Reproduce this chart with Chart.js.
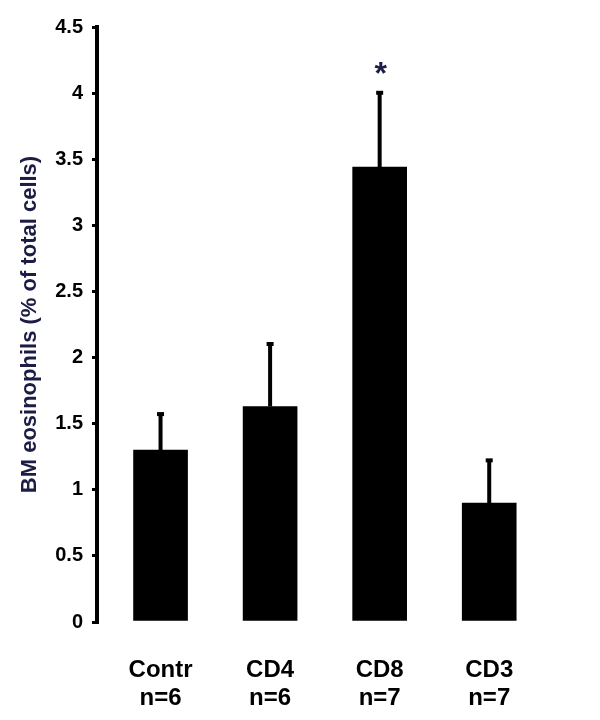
<!DOCTYPE html>
<html>
<head>
<meta charset="utf-8">
<script src="https://cdn.jsdelivr.net/npm/chart.js@4.4.0/dist/chart.umd.min.js"></script>
<style>
  html, body { margin: 0; padding: 0; background: #fff; }
  #wrap { width: 600px; height: 720px; }
</style>
</head>
<body>
<div id="wrap"><canvas id="theCanvas"></canvas></div>
<script>
// groups and group sizes
var groups = ['Contr', 'CD4', 'CD8', 'CD3'];
var groupN = ['n=6', 'n=6', 'n=7', 'n=7'];
// mean eosinophils (% of total cells) and upper error
var means = [1.30, 1.63, 3.44, 0.90];
var errs = [0.28, 0.48, 0.57, 0.33];
// which bar gets the star
var signif = [false, false, true, false];
var yTicks = [0, 0.5, 1, 1.5, 2, 2.5, 3, 3.5, 4, 4.5];

var navy = '#1c1c44';
var font = 'Liberation Sans, Arial, sans-serif';

// upward error bars + significance star
var errorBars = {
    id: 'errorBars',
    afterDatasetsDraw: function(chart){
        var ctx = chart.ctx;
        var xs = chart.scales.x, ys = chart.scales.y;
        ctx.save();
        for (var i=0; i<means.length; i++){
            var x = xs.getPixelForValue(i);
            var y0 = ys.getPixelForValue(means[i]);
            var y1 = ys.getPixelForValue(means[i] + errs[i]);
            ctx.strokeStyle = '#000';
            ctx.lineWidth = 4;
            ctx.beginPath();
            ctx.moveTo(x, y0);
            ctx.lineTo(x, y1);
            ctx.stroke();
            ctx.fillStyle = '#000';
            ctx.fillRect(x - 3.5, y1 - 1, 7, 4);
            if (signif[i]){
                ctx.fillStyle = navy;
                ctx.font = 'bold 32px ' + font;
                ctx.textAlign = 'center';
                ctx.textBaseline = 'middle';
                ctx.fillText('*', x + 1, y1 - 17);
            }
        }
        ctx.restore();
    }
};

var ctx = document.getElementById('theCanvas');

var myChart = new Chart(ctx, {
    type: 'bar',
    data: {
        datasets: [{
            data: means.map(function(v, i){ return {x: i, y: v}; }),
            backgroundColor: '#000',
            borderWidth: 0,
            barThickness: 54
        }]
    },
    options: {
        responsive: true,
        maintainAspectRatio: false,
        animation: false,
        layout: { padding: { top: 27, right: 56, bottom: 0, left: 0 } },
        plugins: { legend: { display: false }, tooltip: { enabled: false } },
        scales: {
            x: {
                type: 'linear',
                offset: false,
                min: -0.58,
                max: 3.5,
                grid: { display: false },
                border: { display: false },
                afterBuildTicks: function(scale){
                    scale.ticks = groups.map(function(g, i){ return {value: i}; });
                },
                afterFit: function(scale){ scale.height = 98; },
                ticks: {
                    autoSkip: false,
                    maxRotation: 0,
                    padding: 26,
                    color: '#000',
                    font: { family: font, size: 24, weight: 'bold', lineHeight: 1.17 },
                    callback: function(v){
                        var i = Math.round(v);
                        return [groups[i], groupN[i]];
                    }
                }
            },
            y: {
                min: 0,
                max: 4.5,
                afterBuildTicks: function(scale){
                    scale.ticks = yTicks.map(function(v){ return {value: v}; });
                },
                afterFit: function(scale){ scale.width = 97; },
                border: { display: true, color: '#000', width: 4 },
                grid: {
                    drawOnChartArea: false,
                    drawTicks: true,
                    tickLength: 5,
                    color: '#000',
                    lineWidth: 3
                },
                ticks: {
                    padding: 9,
                    color: '#000',
                    font: { family: font, size: 20, weight: 'bold' },
                    callback: function(v){ return String(v); }
                },
                title: {
                    display: true,
                    text: 'BM eosinophils (% of total cells)',
                    color: navy,
                    padding: { top: 17, bottom: 0 },
                    font: { family: font, size: 22, weight: 'bold' }
                }
            }
        }
    },
    plugins: [errorBars]
});
</script>
</body>
</html>
